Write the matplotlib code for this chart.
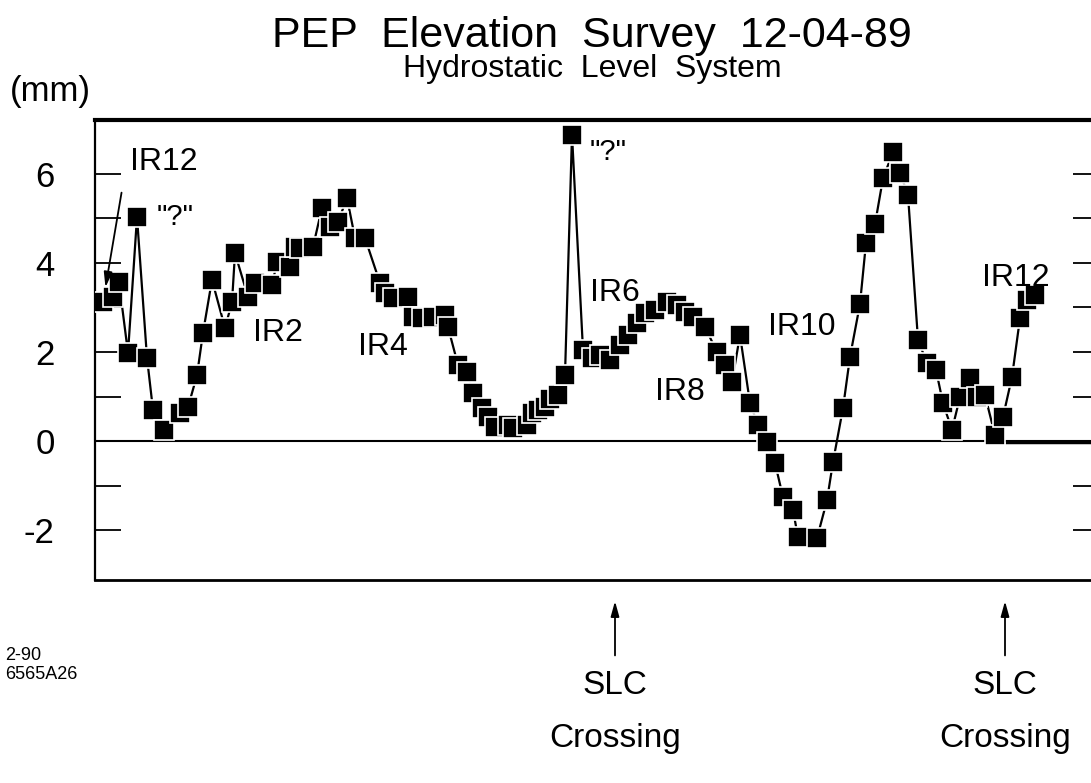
import matplotlib
matplotlib.use("Agg")
import matplotlib.pyplot as plt

plt.rcParams['font.family'] = ['Liberation Sans', 'DejaVu Sans']
plt.rcParams['axes.unicode_minus'] = False

# position around the ring (arbitrary units, IR12 -> IR12) and elevation in mm
pos = [8, 18, 24, 33, 42, 52, 58, 69, 85, 93, 102, 108, 117, 130, 137, 140,
       153, 160, 177, 182, 195, 200, 205, 218, 227, 235, 243, 252, 260, 270,
       285, 290, 298, 313, 318, 327, 338, 350, 353, 363, 372, 378, 387, 393,
       400, 413, 418, 432, 437, 443, 450, 455, 463, 470, 477, 488, 497, 505,
       515, 525, 533, 542, 550, 560, 572, 582, 590, 598, 610, 622, 630, 637,
       645, 655, 663, 672, 680, 688, 698, 703, 722, 732, 738, 748, 755, 765,
       771, 780, 788, 798, 805, 813, 823, 832, 841, 848, 857, 865, 875, 882,
       890, 900, 908, 917, 925, 932, 940]
elev = [3.12, 3.24, 3.57, 1.98, 5.03, 1.87, 0.70, 0.25, 0.63, 0.76, 1.48, 2.43,
        3.62, 2.54, 3.12, 4.22, 3.24, 3.55, 3.50, 4.02, 3.91, 4.36, 4.34, 4.36,
        5.24, 4.81, 4.92, 5.46, 4.56, 4.56, 3.55, 3.33, 3.21, 3.24, 2.79, 2.76,
        2.79, 2.83, 2.56, 1.71, 1.55, 1.08, 0.74, 0.54, 0.31, 0.36, 0.29, 0.36,
        0.63, 0.70, 0.76, 0.95, 1.03, 1.48, 6.88, 2.04, 1.87, 1.93, 1.82, 2.16,
        2.38, 2.65, 2.88, 2.94, 3.12, 3.06, 2.90, 2.79, 2.56, 2.00, 1.71, 1.33,
        2.38, 0.85, 0.36, -0.02, -0.49, -1.26, -1.55, -2.16, -2.18, -1.33, -0.47,
        0.74, 1.89, 3.08, 4.45, 4.87, 5.90, 6.49, 6.02, 5.53, 2.27, 1.75, 1.60,
        0.85, 0.25, 0.99, 1.42, 0.99, 1.03, 0.13, 0.54, 1.44, 2.76, 3.17, 3.28]

# region labels: (text, x, y)
ir_labels = [("IR12", 35, 6.27), ("IR2", 158, 2.43), ("IR4", 263, 2.11),
             ("IR6", 495, 3.33), ("IR8", 560, 1.10), ("IR10", 673, 2.56),
             ("IR12", 887, 3.66)]
query_labels = [(62, 5.03), (495, 6.49)]
slc_crossings = [520, 910]

fig = plt.figure(figsize=(10.91, 7.83), dpi=100)
ax = fig.add_axes([95 / 1091, 1 - 580 / 783, 1 - 95 / 1091 + 8 / 1091, 460 / 783])

ax.axhline(0, color='black', lw=1.5, zorder=1)
ax.hlines(-0.03, slc_crossings[1], 1000, color='black', lw=2.5, zorder=1)
ax.plot(pos, elev, color='black', lw=1.6, marker='s', markersize=14,
        markerfacecolor='black', markeredgecolor='white', markeredgewidth=1.2,
        zorder=3)

ax.set_xlim(0, 1004)
ax.set_ylim(-3.12, 7.21)

ax.spines['right'].set_visible(False)
ax.spines['left'].set_linewidth(1.6)
ax.spines['top'].set_linewidth(3)
ax.spines['bottom'].set_linewidth(2)

ax.set_xticks([])
ax.set_yticks([-2, 0, 2, 4, 6])
ax.set_yticks([-1, 1, 3, 5], minor=True)
ax.tick_params(axis='y', which='both', direction='in', length=19, width=1.3,
               right=True, left=True)
ax.tick_params(axis='y', which='major', labelsize=25, pad=29)

for txt, x, y in ir_labels:
    ax.text(x, y, txt, fontsize=23, ha='left', va='center')
for x, y in query_labels:
    ax.text(x, y, '"?"', fontsize=21, ha='left', va='center')

ax.annotate('', xy=(10, 3.39), xytext=(27, 5.64),
            arrowprops=dict(arrowstyle='-|>,head_length=0.9,head_width=0.25',
                            color='black', lw=1.3))

for x in slc_crossings:
    ax.annotate('', xy=(x, -0.04), xytext=(x, -0.17),
                xycoords=('data', 'axes fraction'),
                textcoords=('data', 'axes fraction'),
                arrowprops=dict(arrowstyle='-|>,head_length=0.9,head_width=0.25',
                                color='black', lw=1.3))
    ax.text(x, -0.23, 'SLC', transform=ax.get_xaxis_transform(),
            fontsize=24, ha='center', va='center')
    ax.text(x, -0.345, 'Crossing', transform=ax.get_xaxis_transform(),
            fontsize=24, ha='center', va='center')

fig.text(592 / 1091, 1 - 47 / 783, 'PEP  Elevation  Survey  12-04-89',
         fontsize=31, ha='center', va='baseline')
fig.text(592 / 1091, 1 - 77 / 783, 'Hydrostatic  Level  System',
         fontsize=23, ha='center', va='baseline')
fig.text(10 / 1091, 1 - 92 / 783, '(mm)', fontsize=25, ha='left', va='center')
fig.text(5 / 1091, 1 - 665 / 783, '2-90\n6565A26', fontsize=13, ha='left',
         va='center', linespacing=1.2)

fig.savefig('out.png', dpi=100)
